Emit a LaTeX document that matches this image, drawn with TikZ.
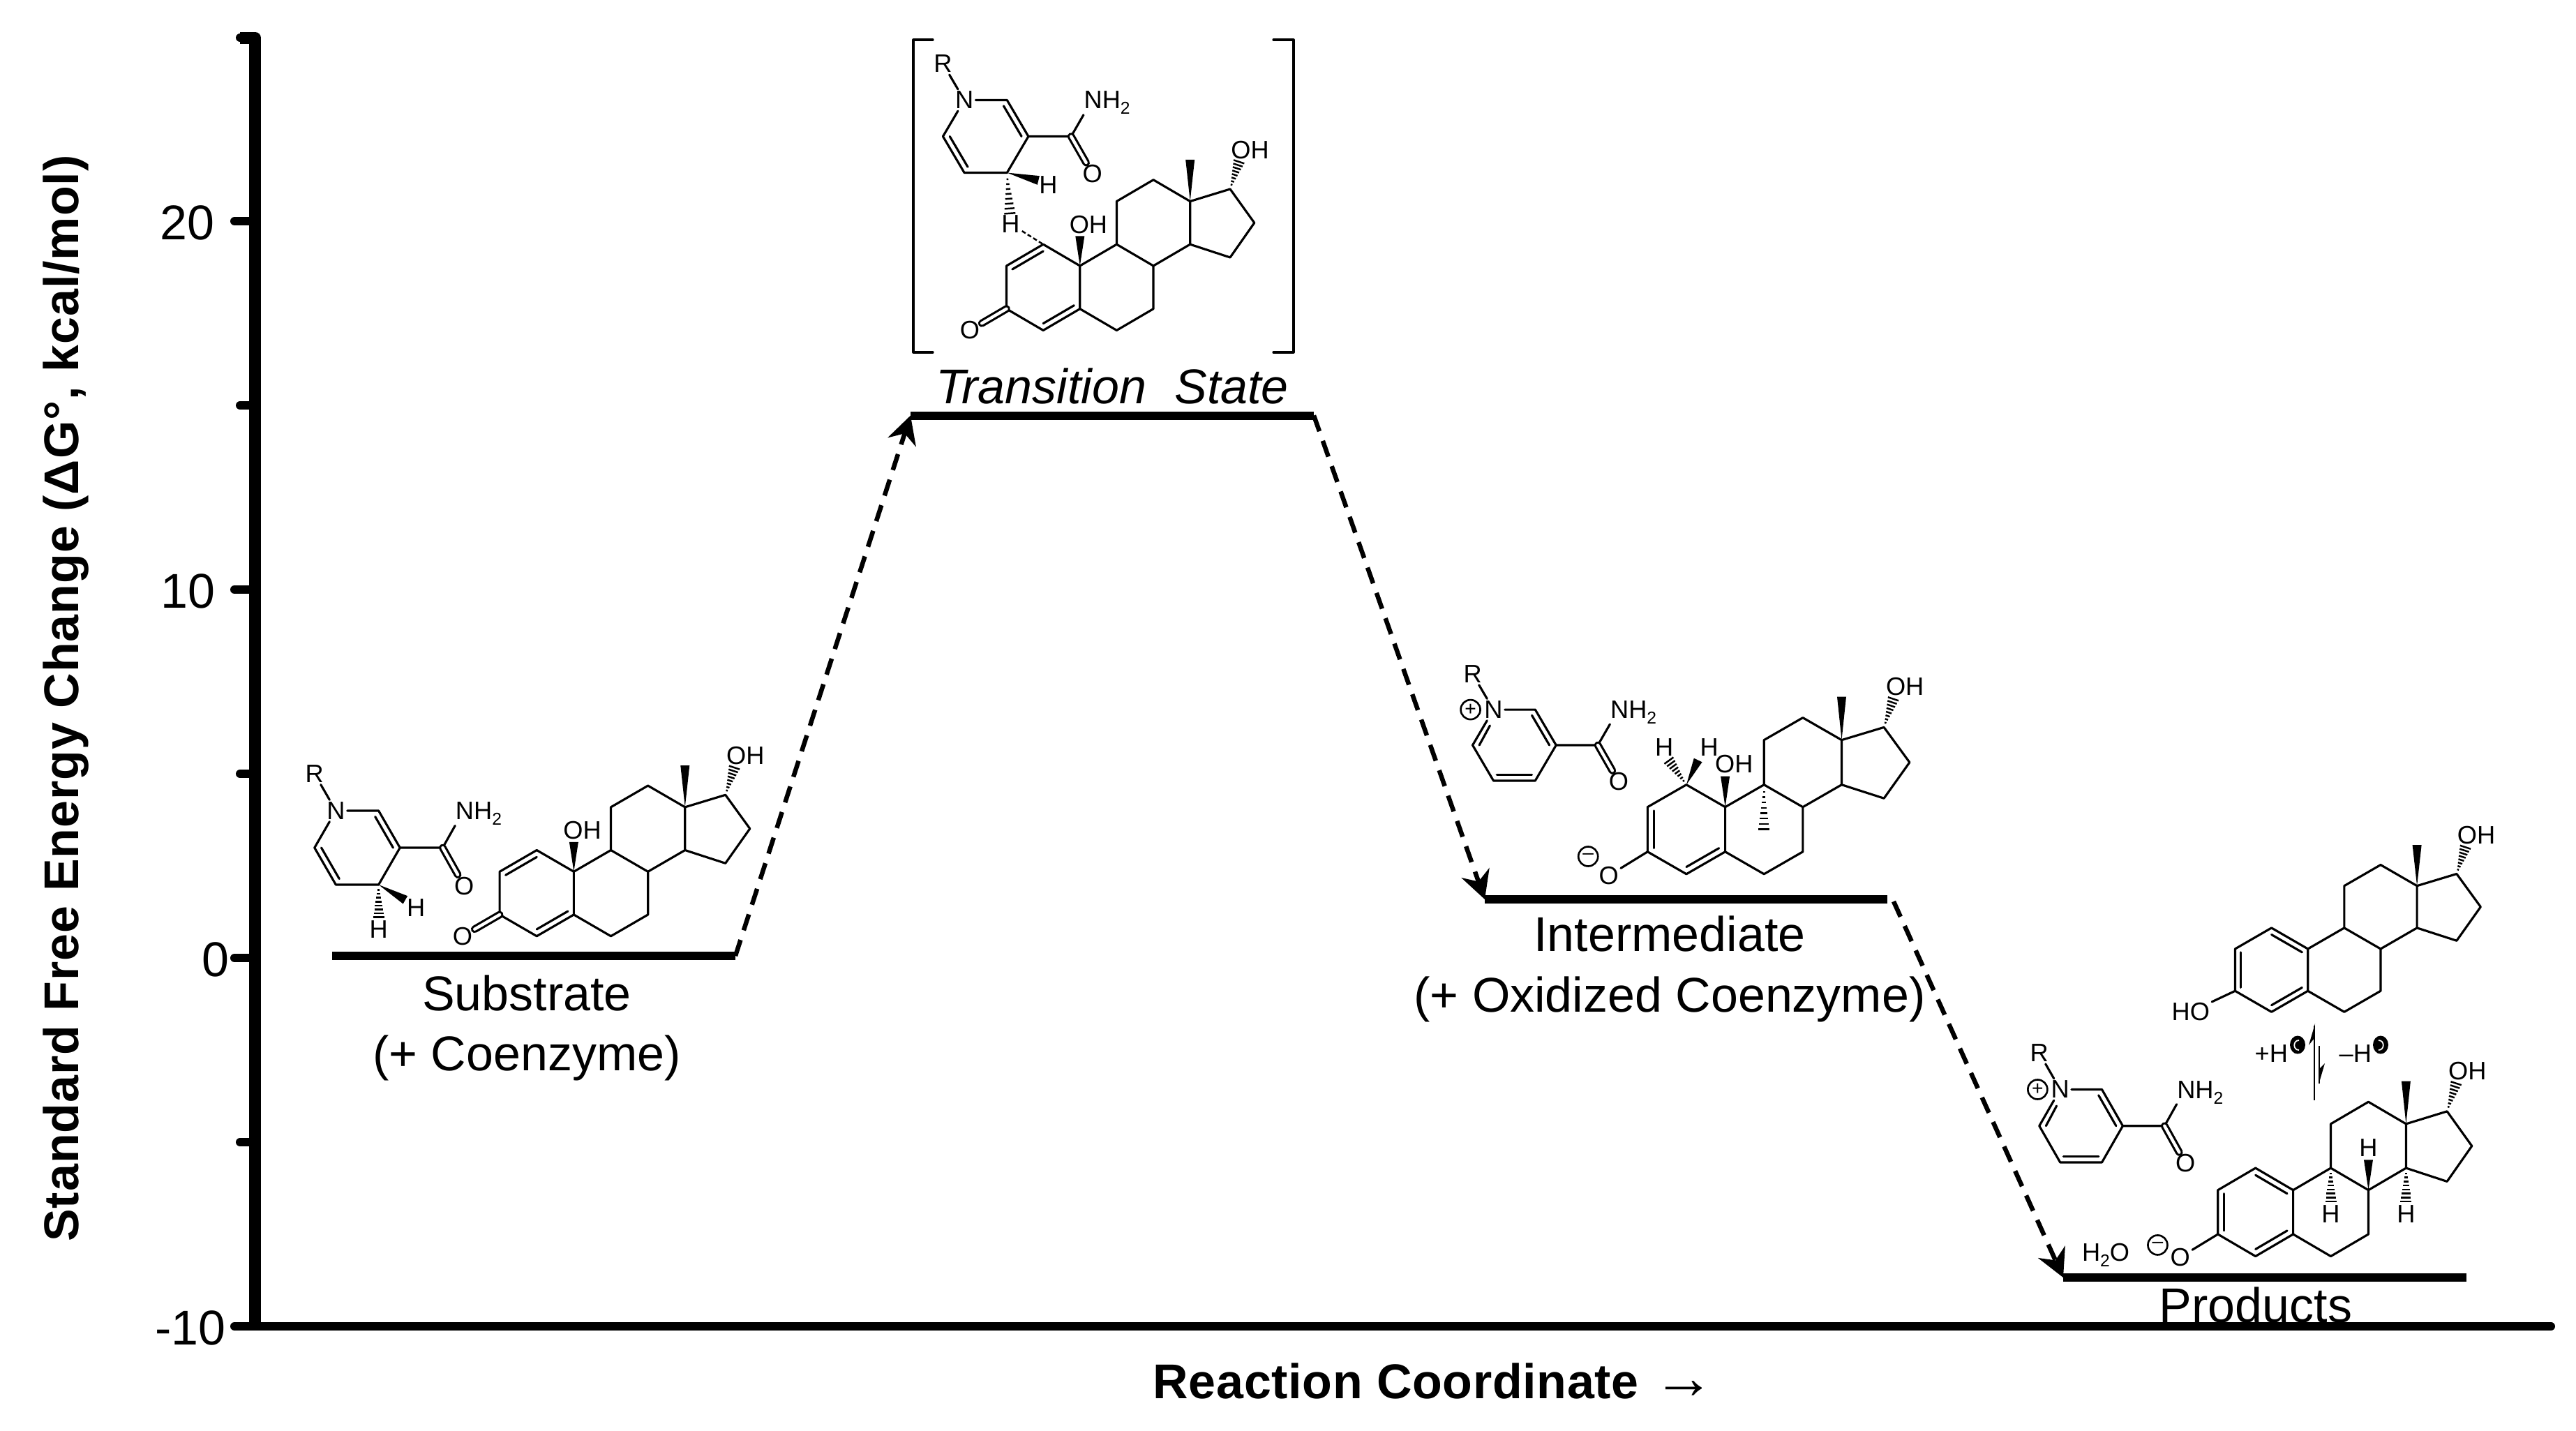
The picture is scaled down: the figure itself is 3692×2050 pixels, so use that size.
\documentclass[tikz,border=0pt]{standalone}
\usepackage{fontspec}
\setmainfont{Liberation Sans}
\newfontfamily\axisfont[LetterSpace=1.4]{Liberation Sans}
\newfontfamily\xaxisfont[LetterSpace=1.0]{Liberation Sans}
\usetikzlibrary{calc,arrows.meta}
\tikzset{
    bond/.style={line width=0.9pt, line join=round, line cap=round},
    dblbond/.style={bond, double, double distance=1.25pt},
    atom/.style={font=\fontsize{10.3}{12}\selectfont, inner sep=0.7pt},
    chargesign/.style={draw, circle, line width=0.75pt, minimum size=0.28cm, inner sep=0pt, font=\fontsize{8}{8}\selectfont},
    biglabel/.style={font=\fontsize{19.9}{24}\selectfont, inner sep=0pt, anchor=base},
    ticklabel/.style={biglabel, anchor=base east},
    axisline/.style={line width=0.12cm, line cap=round},
    levelbar/.style={line width=0.12cm},
    conn/.style={line width=0.065cm, dash pattern=on 0.24cm off 0.145cm, -{Stealth[length=0.4cm, width=0.42cm, inset=0.13cm]}},
    hbond/.style={line width=0.7pt, dash pattern=on 0.06cm off 0.035cm},
    frame/.style n args={4}{shift={(#1,#2)}, x=#3cm, y=#4cm},
}
\newcommand{\lowtwo}{\raisebox{-0.22em}{\fontsize{7}{8}\selectfont 2}}
% solid and hashed stereo bonds
\newcommand{\wedgebond}[2]{\fill (#1) -- ($(#2)!0.065cm!90:(#1)$) -- ($(#2)!0.065cm!-90:(#1)$) -- cycle;}
\newcommand{\hashbond}[2]{
    \foreach \t in {0.16,0.28,0.40,0.52,0.64,0.76,0.88,1.0} {
        \pgfmathsetmacro\hw{0.08*\t}
        \draw[line width=0.7pt] ($(#1)!\t!(#2)!\hw cm!90:(#1)$) -- ($(#1)!\t!(#2)!\hw cm!-90:(#1)$);
    }
}
% inner line of a double bond in a ring
\newcommand{\dblin}[3]{\draw[bond] ($(#1)!0.16!(#3)$) -- ($(#2)!0.16!(#3)$);}
\newcommand{\steroid}{
    \foreach \n/\a/\b in {c10/0/0, c1/-1/1, c2/-2/0, c3/-2/-2, c4/-1/-3, c5/0/-2, c6/1/-3, c7/2/-2, c8/2/0, c9/1/1,
        c11/1/3, c12/2/4, c13/3/3, c14/3/1, c15/4.09/0.39, c16/4.75/2, c17/4.09/3.57, me/3/4.94, ohtip/4.33/4.84, ringa/-1/-1} {
        \coordinate (\n) at (\a,\b);
    }
    \draw[bond] (c10) -- (c1) -- (c2) -- (c3) -- (c4) -- (c5) -- (c10) (c5) -- (c6) -- (c7) -- (c8) -- (c9) -- (c10)
        (c9) -- (c11) -- (c12) -- (c13) -- (c14) -- (c8) (c14) -- (c15) -- (c16) -- (c17) -- (c13);
    \wedgebond{c13}{me}
    \hashbond{c17}{ohtip}
    \node[atom] (oh17) at (4.63,5.4) {OH};
}
\newcommand{\tenhydroxy}{
    \coordinate (ohwedge) at (0,1.38);
    \wedgebond{c10}{ohwedge}
    \node[atom] (oh10) at (0.23,1.93) {OH};
}
\newcommand{\pyridine}{
    \foreach \n/\a/\b in {pc/0/0, p2/1/1, p3/2/0, p4/1/-1, p5/-1/-1, p6/-2/0, am/4/0} {
        \coordinate (\n) at (\a,\b);
    }
    \node[atom] (N) at (-1,1) {N};
    \node[atom] (R) at (-2,2) {R};
    \node[atom, inner sep=0pt, anchor=base west] (amN) at (4.58,0.76) {NH\lowtwo};
    \node[atom] (O) at (5,-1.03) {O};
    \draw[bond] (N) -- (p2) -- (p3) -- (p4) -- (p5) -- (p6) -- (N) (R) -- (N) (p3) -- (am) -- (amN.south west);
    \draw[dblbond] (am) -- (O);
    \dblin{p2}{p3}{pc}
}
\begin{document}
\begin{tikzpicture}[x=0.01cm, y=-0.01cm]
    \useasboundingbox (0,0) rectangle (3692,2050);
    %draw axes
    \draw[line width=0.17cm, line join=round] (344,54) -- (365.5,54) -- (365.5,1901);
    \draw[axisline] (344,54) -- (365,54);
    \draw[axisline] (336,1901) -- (3656,1901);
    \foreach \y in {317,845,1373} {
        \draw[axisline] (336,\y) -- (365,\y);
    }
    \foreach \y in {581,1109,1637} {
        \draw[axisline] (344,\y) -- (365,\y);
    }
    \node[ticklabel] (t20) at (308,343) {20};
    \node[ticklabel] (t10) at (309,871) {10};
    \node[ticklabel] (t0) at (329,1399) {0};
    \node[ticklabel] (tm10) at (324,1927) {-10};
    \node[rotate=90, inner sep=0pt, anchor=base, font=\fontsize{19.9}{24}\selectfont\axisfont\bfseries] (ylabel) at (113,1001) {Standard Free Energy Change (ΔG°, kcal/mol)};
    \node[inner sep=0pt, anchor=base west, font=\fontsize{19.9}{24}\selectfont\xaxisfont\bfseries] (xlabel) at (1652,2004) {Reaction Coordinate {\fontsize{25}{24}\selectfont →}};
    %draw energy levels
    \coordinate (subL) at (476,1370);
    \coordinate (subR) at (1054,1370);
    \coordinate (tsL) at (1305,595.5);
    \coordinate (tsR) at (1883,595.5);
    \coordinate (intL) at (2128,1289);
    \coordinate (intR) at (2705,1289);
    \coordinate (intout) at (2714,1292);
    \coordinate (prodL) at (2957,1831);
    \coordinate (prodR) at (3535,1831);
    \draw[levelbar] (subL) -- (subR);
    \draw[levelbar] (tsL) -- (tsR);
    \draw[levelbar] (intL) -- (intR);
    \draw[levelbar] (prodL) -- (prodR);
    \draw[conn] (subR) -- (tsL);
    \draw[conn] (tsR) -- (intL);
    \draw[conn] (intout) -- (prodL);
    %level names
    \node[biglabel] (subname) at (755,1448) {Substrate};
    \node[biglabel] (subco) at (755,1534) {(+ Coenzyme)};
    \node[biglabel, font=\fontsize{19.9}{24}\selectfont\itshape] (tsname) at (1594,578) {Transition\hspace{0.3em} State};
    \node[biglabel] (intname) at (2393,1363) {Intermediate};
    \node[biglabel] (intco) at (2393,1450) {(+ Oxidized Coenzyme)};
    \node[biglabel] (prodname) at (3233,1895) {Products};
    %substrate
    \begin{scope}[name prefix=sub-]
        \begin{scope}[frame={512}{1215}{0.306}{0.53}]
            \pyridine
            \dblin{p5}{p6}{pc}
            \coordinate (wtip) at (2.25,-1.41);
            \coordinate (htip) at (1,-1.88);
            \wedgebond{p4}{wtip}
            \hashbond{p4}{htip}
            \node[atom] (hW) at (2.75,-1.63) {H};
            \node[atom] (hH) at (1,-2.2) {H};
        \end{scope}
        \begin{scope}[frame={822.4}{1249.3}{0.531}{0.308}]
            \steroid
            \tenhydroxy
            \dblin{c1}{c2}{ringa}
            \dblin{c4}{c5}{ringa}
            \node[atom] (ox) at (-3,-3) {O};
            \draw[dblbond] (c3) -- (ox);
        \end{scope}
    \end{scope}
    %transition state
    \draw[bond] (1337,57) -- (1309,57) -- (1309,505) -- (1337,505);
    \draw[bond] (1825,57) -- (1854,57) -- (1854,505) -- (1825,505);
    \begin{scope}[name prefix=ts-]
        \begin{scope}[frame={1412.7}{195.5}{0.306}{0.52}]
            \pyridine
            \dblin{p5}{p6}{pc}
            \coordinate (wtip) at (2.47,-1.21);
            \coordinate (htip) at (1.13,-2.12);
            \wedgebond{p4}{wtip}
            \hashbond{p4}{htip}
            \node[atom] (hW) at (2.93,-1.33) {H};
            \node[atom] (hH) at (1.17,-2.41) {H};
        \end{scope}
        \begin{scope}[frame={1547.8}{381}{0.526}{0.308}]
            \steroid
            \tenhydroxy
            \dblin{c1}{c2}{ringa}
            \dblin{c4}{c5}{ringa}
            \node[atom] (ox) at (-3,-3) {O};
            \draw[dblbond] (c3) -- (ox);
        \end{scope}
        \draw[hbond] (hH) -- (c1);
    \end{scope}
    %intermediate
    \begin{scope}[name prefix=int-]
        \begin{scope}[frame={2170.4}{1068}{0.299}{0.509}]
            \pyridine
            \node[chargesign] (chg) at (-2.1,1) {+};
            \draw[bond] (-1.17,0.55) -- ($(p6)!0.16!(pc)$);
            \dblin{p4}{p5}{pc}
        \end{scope}
        \begin{scope}[frame={2472.6}{1156.7}{0.556}{0.32}]
            \steroid
            \tenhydroxy
            \dblin{c2}{c3}{ringa}
            \dblin{c4}{c5}{ringa}
            \coordinate (hl) at (-1.45,2.08);
            \coordinate (hr) at (-0.7,2.1);
            \coordinate (mtip) at (1,-0.99);
            \hashbond{c1}{hl}
            \wedgebond{c1}{hr}
            \hashbond{c9}{mtip}
            \node[atom] (hL) at (-1.57,2.69) {H};
            \node[atom] (hR) at (-0.41,2.69) {H};
            \node[atom] (ox) at (-3,-3.07) {O};
            \node[chargesign] (chg) at (-3.53,-2.21) {–};
            \draw[bond] (c3) -- (ox);
        \end{scope}
    \end{scope}
    %products
    \begin{scope}[name prefix=prod-]
        \begin{scope}[frame={2982.6}{1613.7}{0.299}{0.522}]
            \pyridine
            \node[chargesign] (chg) at (-2.08,1) {+};
            \draw[bond] (-1.17,0.55) -- ($(p6)!0.16!(pc)$);
            \dblin{p4}{p5}{pc}
        \end{scope}
        \begin{scope}[frame={3307.7}{1360}{0.521}{0.301}]
            \steroid
            \dblin{c1}{c10}{ringa}
            \dblin{c2}{c3}{ringa}
            \dblin{c4}{c5}{ringa}
            \node[atom] (ho) at (-3.22,-2.99) {HO};
            \draw[bond] (c3) -- (ho);
        \end{scope}
        \begin{scope}[frame={3286.6}{1705.7}{0.539}{0.316}]
            \steroid
            \dblin{c1}{c10}{ringa}
            \dblin{c2}{c3}{ringa}
            \dblin{c4}{c5}{ringa}
            \coordinate (hE) at (2,1.37);
            \coordinate (hN) at (1,-0.52);
            \coordinate (hS) at (3,-0.52);
            \wedgebond{c8}{hE}
            \hashbond{c9}{hN}
            \hashbond{c14}{hS}
            \node[atom] (h8) at (2,1.92) {H};
            \node[atom] (h9) at (1,-1.1) {H};
            \node[atom] (h14) at (3,-1.1) {H};
            \node[atom] (ox) at (-3,-3.04) {O};
            \node[chargesign] (chg) at (-3.6,-2.49) {–};
            \draw[bond] (c3) -- (ox);
        \end{scope}
        \node[atom] (water) at (3018,1799) {H\lowtwo O};
    \end{scope}
    %proton exchange between the two forms
    \node[atom, inner sep=0pt, anchor=base west] (addH) at (3231,1522) {+H};
    \node[atom, inner sep=0pt, anchor=base west] (lossH) at (3352,1522) {–H};
    \fill (3293,1497.5) ellipse [x radius=0.11cm, y radius=0.13cm];
    \fill (3412,1497.5) ellipse [x radius=0.11cm, y radius=0.13cm];
    \draw[white, line width=0.5pt] (3295,1491) .. controls (3286,1491) and (3286,1505) .. (3295,1505);
    \draw[white, line width=0.5pt] (3409,1491) .. controls (3418,1491) and (3418,1505) .. (3409,1505);
    \draw[line width=0.8pt] (3317,1577) -- (3317,1470);
    \fill (3318,1467) -- (3309,1498) -- (3317,1488) -- cycle;
    \draw[line width=0.8pt] (3324,1499) -- (3324,1553);
    \fill (3323.5,1553) -- (3332,1524) -- (3324,1532) -- cycle;
\end{tikzpicture}
\end{document}
